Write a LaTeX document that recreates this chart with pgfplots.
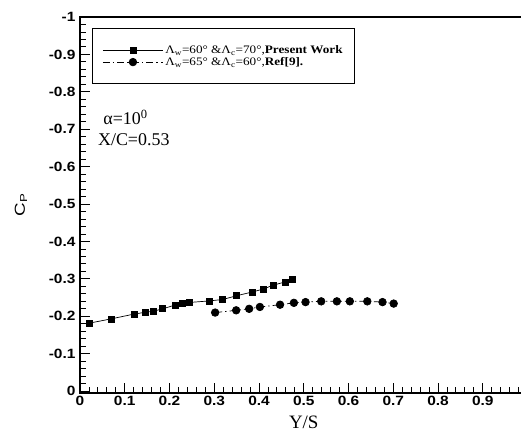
\documentclass[border=0pt]{standalone}
\usepackage{fontspec}
\setmainfont{Liberation Serif}
\newfontfamily\arial{Liberation Sans}
\usepackage{graphicx}
\usepackage{pgfplots}
\pgfplotsset{compat=1.18}

\begin{document}
\begin{tikzpicture}
\useasboundingbox (-80bp,-37bp) rectangle (441bp,393bp);
\begin{axis}[
  at={(0,0)}, anchor=south west,
  scale only axis, width=447.5bp, height=376bp,
  xmin=0, xmax=1, ymin=-1, ymax=0.005,
  y dir=reverse,
  xtick={0,0.1,0.2,0.3,0.4,0.5,0.6,0.7,0.8,0.9},
  minor xtick={0,0.02,...,1.01},
  ytick={-1,-0.9,-0.8,-0.7,-0.6,-0.5,-0.4,-0.3,-0.2,-0.1,0},
  minor ytick={-1,-0.98,...,0.001},
  tick align=inside, tick pos=left,
  major tick length=10bp, minor tick length=6bp,
  every tick/.style={black, line width=0.9pt},
  axis line style={line width=1.3pt},
  /pgf/number format/assume math mode=true,
  tick label style={font=\arial\bfseries\fontsize{13.5}{15}\selectfont},
  xticklabel={\scalebox{1.15}[1]{\pgfmathprintnumber{\tick}}},
  yticklabel={\scalebox{1.15}[1]{\pgfmathprintnumber{\tick}}},
  yticklabel style={xshift=-1bp},
  xlabel={Y/S},
  xlabel style={at={(axis description cs:0.5,0)}, anchor=base, yshift=-35bp, inner sep=0pt, font=\fontsize{19}{21}\selectfont},
  ylabel={\scalebox{1.3}[1]{C\textsubscript{P}}},
  ylabel style={at={(axis description cs:-0.1318,0.5)}, anchor=center, inner sep=0pt, font=\arial\fontsize{14.5}{16}\selectfont},
  legend style={at={(0.0268,0.97)}, anchor=north west, draw=black, line width=1.2pt,
    inner xsep=10bp, inner ysep=15bp, row sep=-2bp, cells={anchor=west},
    font=\fontsize{11.5}{12.5}\selectfont},
  legend image code/.code={\draw[mark repeat=2,mark phase=2,#1] plot coordinates {(0bp,0bp)(30bp,0bp)(60bp,0bp)};},
]
\addplot[black, line width=0.7pt, mark=square*, mark size=3bp, mark options={solid}] coordinates {
(0.022,-0.182) (0.069,-0.193) (0.121,-0.206) (0.147,-0.211) (0.165,-0.214)
(0.185,-0.220) (0.212,-0.230) (0.228,-0.234) (0.244,-0.237) (0.288,-0.241)
(0.319,-0.245) (0.350,-0.255) (0.385,-0.265) (0.410,-0.273) (0.431,-0.283)
(0.459,-0.292) (0.474,-0.300)
};
\addlegendentry{\scalebox{1.15}[1]{Λ\textsubscript{w}=60° \&Λ\textsubscript{c}=70°,\textbf{Present Work}}}
\addplot[black, line width=0.7pt, dash pattern=on 7bp off 3bp on 1.5bp off 3bp, mark=*, mark size=3.8bp, mark options={solid}] coordinates {
(0.302,-0.210) (0.349,-0.216) (0.378,-0.220) (0.402,-0.225) (0.447,-0.231)
(0.478,-0.236) (0.504,-0.238) (0.539,-0.240) (0.574,-0.240) (0.603,-0.240)
(0.642,-0.240) (0.676,-0.238) (0.701,-0.234)
};
\addlegendentry{\scalebox{1.15}[1]{Λ\textsubscript{w}=65° \&Λ\textsubscript{c}=60°,\textbf{Ref[9].}}}
\node[anchor=base west, inner sep=0pt, font=\fontsize{18}{20}\selectfont] at (axis cs:0.052,-0.7125) {α=10\textsuperscript{0}};
\node[anchor=base west, inner sep=0pt, font=\fontsize{18}{20}\selectfont] at (axis cs:0.040,-0.657) {X/C=0.53};
\end{axis}
\end{tikzpicture}
\end{document}
